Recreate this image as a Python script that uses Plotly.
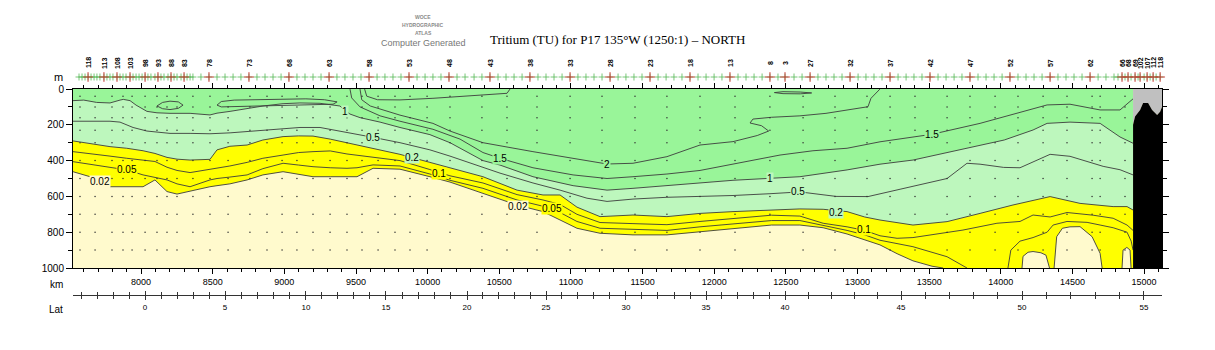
import numpy as np
import plotly.graph_objects as go

# ------------------------------------------------------------------ data
DEPTH_MAX = 1000
KM_MIN, KM_MAX = 7525, 15125
DATA_END_KM = 14923

# isoline 0.02 TU (main branch, reaches the bottom near 13600 km)
c002_km = [7525, 7644, 7783, 7900, 8014, 8097, 8181, 8251, 8342, 8481, 8530, 8620, 8740, 8850, 8991,
           9100, 9200, 9320, 9437, 9507, 9619, 9807, 10016, 10156, 10386, 10624, 10805, 10924, 11042,
           11203, 11433, 11670, 11901, 12131, 12400, 12598, 12760, 12927, 13050, 13157, 13276, 13387,
           13520, 13597]
c002_d = [462, 490, 546, 546, 546, 508, 573, 587, 570, 546, 540, 530, 508, 480, 462,
          475, 490, 490, 490, 490, 443, 448, 490, 520, 583, 648, 685, 732, 778,
          806, 815, 815, 797, 778, 760, 760, 775, 810, 843, 871, 920, 960,
          990, 1000]

# isoline 0.05 TU
c005_km = [7525, 7644, 7783, 7900, 8014, 8097, 8181, 8251, 8342, 8481, 8530, 8620, 8740, 8850, 8991,
           9100, 9200, 9320, 9437, 9507, 9619, 9807, 10016, 10156, 10386, 10624, 10805, 10924, 11042,
           11203, 11433, 11670, 11901, 12131, 12400, 12598, 12760, 12927, 13050, 13157, 13387, 13625,
           13764]
c005_d = [406, 420, 437, 452, 480, 492, 508, 530, 546, 508, 500, 492, 480, 445, 415,
          425, 434, 440, 443, 440, 424, 430, 475, 510, 555, 620, 655, 690, 740,
          778, 785, 790, 770, 752, 735, 735, 760, 790, 815, 845, 881, 937,
          1000]
c005b_km = [14050, 14070, 14134, 14225, 14323, 14365, 14462, 14602, 14693, 14784, 14881, 14910, 14923]
c005b_d = [1000, 900, 850, 830, 800, 760, 740, 745, 760, 775, 800, 850, 900]

# isoline 0.1 TU
c01_km = [7525, 7644, 7783, 7900, 8014, 8097, 8181, 8251, 8342, 8481, 8530, 8620, 8740, 8850, 8991,
          9100, 9200, 9320, 9437, 9507, 9619, 9807, 10016, 10156, 10386, 10624, 10805, 10924, 11042,
          11203, 11433, 11670, 11901, 12131, 12400, 12598, 12760, 12927, 13050, 13157, 13276, 13387,
          13520, 13736, 13973, 14134, 14225, 14344, 14462, 14644, 14784, 14881, 14923]
c01_d = [350, 360, 375, 387, 398, 405, 437, 455, 467, 450, 440, 430, 410, 387, 369,
         355, 350, 346, 363, 370, 378, 400, 450, 485, 525, 590, 620, 645, 700,
         746, 752, 758, 740, 725, 705, 710, 750, 770, 790, 820, 834, 830,
         815, 788, 750, 740, 704, 715, 690, 705, 722, 760, 790]

# isoline 0.2 TU (top of the yellow band)
c02_km = [7525, 7644, 7783, 7900, 8014, 8097, 8181, 8251, 8342, 8481, 8530, 8620, 8740, 8850, 8991,
          9100, 9200, 9320, 9437, 9507, 9619, 9807, 10016, 10156, 10386, 10624, 10805, 10924, 11042,
          11203, 11433, 11670, 11901, 12131, 12400, 12598, 12760, 12927, 13050, 13157, 13387, 13520,
          13625, 13855, 14085, 14344, 14553, 14784, 14881, 14923]
c02_d = [290, 305, 322, 331, 345, 360, 382, 392, 397, 393, 340, 320, 313, 285, 266,
         262, 263, 280, 300, 313, 335, 365, 410, 440, 490, 565, 592, 592, 660,
         713, 704, 713, 695, 685, 675, 670, 672, 685, 715, 732, 760, 750,
         741, 695, 648, 601, 639, 657, 657, 676]

# isoline 0.5 TU
c05_km = [7525, 7690, 7783, 7853, 7944, 8041, 8111, 8202, 8342, 8481, 8621, 8740, 8851, 8991, 9109,
          9249, 9388, 9528, 9619, 9807, 10016, 10156, 10386, 10505, 10735, 10924, 11112, 11252, 11433,
          11670, 11901, 12131, 12389, 12598, 12850, 13073, 13297, 13520, 13625, 13764, 13855, 14020,
          14134, 14344, 14483, 14714, 14832, 14923]
c05_d = [180, 178, 180, 185, 215, 235, 240, 248, 248, 250, 245, 238, 229, 220, 215,
         215, 235, 255, 270, 300, 340, 375, 440, 470, 525, 565, 610, 628, 615,
         605, 600, 595, 585, 575, 600, 601, 560, 520, 500, 415, 420, 438,
         440, 365, 376, 432, 451, 480]

# isoline 1 TU (green / light-green boundary)
c1_km = [7525, 7600, 7690, 7783, 7853, 7876, 7923, 7965, 8041, 8111, 8202, 8342, 8481, 8530, 8621,
         8740, 8851, 8991, 9109, 9249, 9388, 9423, 9458, 9528, 9668, 9807, 10016, 10156, 10386,
         10505, 10735, 11015, 11252, 11433, 11670, 11901, 12131, 12389, 12598, 12927, 13157, 13387,
         13716, 14024, 14225, 14323, 14483, 14693, 14832, 14923]
c1_d = [65, 62, 75, 78, 62, 58, 65, 90, 125, 133, 136, 136, 145, 135, 125,
        110, 95, 82, 78, 80, 95, 120, 140, 160, 185, 215, 255, 300, 400,
        425, 490, 540, 565, 555, 540, 525, 510, 499, 490, 452, 420, 397,
        341, 285, 229, 192, 185, 192, 268, 303]

# isoline 1.5 TU
c15_km = [9458, 9470, 9528, 9668, 9807, 10037, 10226, 10386, 10505, 10735, 11015, 11252, 11433, 11670,
          11901, 12131, 12389, 12459, 12689, 12927, 13157, 13520, 13855, 14085, 14323, 14483, 14693,
          14832, 14902, 14923]
c15_d = [0, 50, 100, 150, 180, 225, 280, 355, 387, 440, 480, 500, 490, 475,
         455, 420, 380, 369, 345, 331, 295, 253, 192, 140, 89, 85, 117,
         117, 71, 55]

# isoline 2 TU
c2_km = [9528, 9540, 9600, 9700, 9807, 10037, 10156, 10386, 10735, 11252, 11433, 11670, 11901, 12131,
         12300, 12380, 12330, 12250, 12270, 12400, 12598, 12780, 12927, 13073, 13094, 13157]
c2_d = [0, 60, 95, 120, 146, 192, 235, 300, 350, 419, 415, 378, 313, 294,
        260, 235, 205, 190, 168, 158, 150, 136, 117, 99, 52, 0]

# small near-surface contours
cs_km = [9560, 9575, 9650, 9807, 10037, 10386, 10554, 10575]
cs_d = [0, 40, 60, 61, 52, 33, 24, 0]
loopA_km = [8111, 8150, 8202, 8260, 8293, 8260, 8202, 8150, 8111]
loopA_d = [95, 75, 68, 72, 90, 108, 115, 110, 95]
loopB_km = [8530, 8560, 8650, 8800, 8991, 9150, 9280, 9368, 9340, 9200, 9000, 8800, 8650, 8560, 8530]
loopB_d = [90, 70, 62, 60, 55, 55, 60, 72, 85, 88, 92, 95, 100, 100, 90]
loopD_km = [12420, 12480, 12600, 12680, 12600, 12480, 12420]
loopD_d = [20, 15, 17, 22, 27, 26, 20]

# pockets below 0.02 TU near the northern end
p1_km = [14148, 14155, 14190, 14225, 14280, 14315, 14340]
p1_d = [1000, 935, 912, 908, 915, 928, 1000]
p2_km = [14372, 14380, 14390, 14430, 14483, 14553, 14637, 14693, 14707]
p2_d = [1000, 918, 825, 778, 770, 769, 825, 918, 1000]
p3_km = [14846, 14853, 14880, 14902, 14909]
p3_d = [1000, 900, 885, 900, 1000]

# bottom topography at the northern end
topo_km = [14923, 14937, 14972, 14993, 15028, 15056, 15091, 15112, 15125]
topo_d = [200, 153, 117, 78, 78, 117, 145, 127, 100]

# contour labels
lab_txt = ["0.02", "0.05", "0.5", "0.2", "1", "1.5", "0.1", "2", "0.02", "0.05", "1", "0.5", "0.2", "0.1", "1.5"]
lab_km = [7713, 7902, 9619, 9891, 9423, 10505, 10079, 11252, 10631, 10868, 12389, 12584, 12850, 13045, 13520]
lab_d = [518, 452, 270, 382, 127, 387, 471, 419, 659, 667, 499, 573, 689, 784, 253]
lab_bg = ["pale", "yellow", "lgreen", "lgreen", "lgreen", "green", "yellow", "green", "pale", "yellow",
          "lgreen", "lgreen", "lgreen", "yellow", "green"]

# bottle sample positions
sample_km = [7574, 7679, 7797, 7874, 7937, 8028, 8111, 8181, 8251, 8362, 8481, 8607, 8760, 8879, 8984,
             9088, 9200, 9319, 9437, 9542, 9654, 9772, 9877, 9996, 10156, 10379, 10554, 10763, 10994,
             11217, 11447, 11670, 11901, 12145, 12389, 12620, 12843, 13066, 13227, 13401, 13625, 13785,
             13960, 14120, 14295, 14462, 14637, 14693, 14867]
sample_depth = [40, 100, 160, 230, 300, 400, 500, 600, 700, 800, 900]

# stations (top strip)
station_km = [7567, 7588, 7609, 7630, 7651, 7672, 7692, 7713, 7741, 7762, 7783, 7804, 7832, 7853, 7874,
              7895, 7923, 7944, 7965, 7986, 8007, 8028, 8048, 8069, 8097, 8118, 8139, 8160, 8188, 8209,
              8230, 8251, 8279, 8300, 8321, 8342, 8362, 8418, 8474, 8530, 8586, 8642, 8697, 8753, 8809,
              8865, 8921, 8977, 9032, 9088, 9144, 9200, 9256, 9312, 9367, 9423, 9479, 9535, 9591, 9647,
              9702, 9758, 9814, 9870, 9926, 9982, 10037, 10093, 10149, 10205, 10261, 10324, 10379, 10435,
              10491, 10547, 10603, 10659, 10714, 10770, 10826, 10882, 10938, 10994, 11049, 11105, 11161,
              11217, 11273, 11329, 11384, 11440, 11496, 11552, 11608, 11664, 11719, 11775, 11831, 11887,
              11943, 11999, 12054, 12110, 12166, 12222, 12278, 12334, 12389, 12445, 12494, 12557, 12613,
              12669, 12724, 12780, 12836, 12892, 12948, 13004, 13059, 13115, 13171, 13227, 13283, 13339,
              13394, 13450, 13506, 13562, 13618, 13674, 13729, 13785, 13841, 13897, 13953, 14009, 14064,
              14120, 14176, 14232, 14288, 14344, 14399, 14455, 14511, 14567, 14623, 14679, 14734, 14790,
              14818, 14846, 14867, 14888, 14909, 14937, 14958, 14972, 15000, 15021, 15042, 15063, 15084,
              15112]
label_km = [7630, 7741, 7832, 7923, 8028, 8118, 8209, 8300, 8474, 8753, 9032, 9312, 9591, 9870, 10149,
            10435, 10714, 10994, 11273, 11552, 11831, 12110, 12389, 12494, 12669, 12948, 13227, 13506,
            13785, 14064, 14344, 14623, 14846, 14888, 14937, 14972, 15021, 15063, 15112]
label_txt = ["118", "113", "108", "103", "98", "93", "88", "83", "78", "73", "68", "63", "58", "53", "48",
             "43", "38", "33", "28", "23", "18", "13", "8", "3", "27", "32", "37", "42", "47", "52", "57",
             "62", "66", "68", "69", "102", "107", "112", "118"]

# latitude axis
lat_major = [0, 5, 10, 15, 20, 25, 30, 35, 40, 45, 50, 55]
lat_major_km = [8028, 8586, 9151, 9709, 10275, 10826, 11384, 11943, 12494, 13304, 14148, 14999]

# ------------------------------------------------------------------ style
PALE = "#FFFACD"
YELLOW = "#FFFF00"
LGREEN = "#BDF7BD"
GREEN = "#99F599"
BG = {"pale": PALE, "yellow": YELLOW, "lgreen": LGREEN, "green": GREEN}
LINE = "#3c3c3c"
SANS = "Liberation Sans, Arial, Helvetica, sans-serif"
SERIF = "Liberation Serif, Times New Roman, serif"

Y_BOT, Y_TOP = 82 / 350, 261 / 350   # main plot domain (pixels 268 .. 89)

fig = go.Figure()


def fill(xs, ys, color):
    fig.add_trace(go.Scatter(x=xs, y=ys, mode="lines", line=dict(width=0), fill="toself",
                             fillcolor=color, hoverinfo="skip", showlegend=False))


def line(xs, ys):
    fig.add_trace(go.Scatter(x=xs, y=ys, mode="lines", line=dict(color=LINE, width=0.9),
                             hoverinfo="skip", showlegend=False))


# filled bands
fill(c002_km + [DATA_END_KM, DATA_END_KM, c002_km[0]], c002_d + [DEPTH_MAX, 0, 0], YELLOW)
for pk, pd in [(p1_km, p1_d), (p2_km, p2_d), (p3_km, p3_d)]:
    fill(pk, pd, PALE)
fill(c02_km + [c02_km[-1], c02_km[0]], c02_d + [0, 0], LGREEN)
fill(c1_km + [c1_km[-1], c1_km[0]], c1_d + [0, 0], GREEN)

# contour lines
for xs, ys in [(c002_km, c002_d), (c005_km, c005_d), (c005b_km, c005b_d), (c01_km, c01_d),
               (c02_km, c02_d), (c05_km, c05_d), (c1_km, c1_d), (c15_km, c15_d), (c2_km, c2_d),
               (cs_km, cs_d), (loopA_km, loopA_d), (loopB_km, loopB_d), (loopD_km, loopD_d),
               (p1_km, p1_d), (p2_km, p2_d), (p3_km, p3_d)]:
    line(xs, ys)

# bottle samples
skm, sdp = np.meshgrid(sample_km, sample_depth)
fig.add_trace(go.Scatter(x=skm.ravel(), y=sdp.ravel(), mode="markers",
                         marker=dict(size=1.5, color="#333333"), hoverinfo="skip", showlegend=False))

# no-data (gray) and bottom (black)
fill(topo_km + [topo_km[-1], topo_km[0]], topo_d + [0, 0], "#C0C0C0")
fill(topo_km + [topo_km[-1], topo_km[0]], topo_d + [DEPTH_MAX, DEPTH_MAX], "#000000")

# station markers on the top strip
fig.add_trace(go.Scatter(x=station_km, y=[77] * len(station_km), xaxis="x", yaxis="y2", mode="markers",
                         marker=dict(symbol="cross-thin", size=5, line=dict(color="#55b855", width=0.8)),
                         hoverinfo="skip", showlegend=False, cliponaxis=False))
fig.add_trace(go.Scatter(x=label_km, y=[77] * len(label_km), xaxis="x", yaxis="y2", mode="markers",
                         marker=dict(symbol="cross-thin", size=7, line=dict(color="#cc3030", width=0.9)),
                         hoverinfo="skip", showlegend=False, cliponaxis=False))

# dummy traces so the latitude axes are drawn
fig.add_trace(go.Scatter(x=[lat_major_km[0]], y=[None], xaxis="x2", yaxis="y", showlegend=False))
fig.add_trace(go.Scatter(x=[lat_major_km[0]], y=[None], xaxis="x3", yaxis="y", showlegend=False))

# latitude minor ticks (one per degree)
lat_minor = np.arange(-4, 57)
km_minor = np.interp(lat_minor, lat_major, lat_major_km)
s0 = (lat_major_km[1] - lat_major_km[0]) / (lat_major[1] - lat_major[0])
s1 = (lat_major_km[-1] - lat_major_km[-2]) / (lat_major[-1] - lat_major[-2])
km_minor = np.where(lat_minor < lat_major[0], lat_major_km[0] + (lat_minor - lat_major[0]) * s0, km_minor)
km_minor = np.where(lat_minor > lat_major[-1], lat_major_km[-1] + (lat_minor - lat_major[-1]) * s1, km_minor)
km_minor = [float(k) for k, la in zip(km_minor, lat_minor) if KM_MIN <= k <= KM_MAX and la % 5 != 0]

axis_common = dict(showgrid=False, zeroline=False, automargin=False)
fig.update_layout(
    width=1215, height=350, autosize=False,
    margin=dict(l=73, r=53, t=0, b=0, pad=0),
    paper_bgcolor="white", plot_bgcolor="white", showlegend=False,
    xaxis=dict(domain=[0, 1], range=[KM_MIN, KM_MAX], anchor="y", showline=True, linecolor="black",
               linewidth=1, mirror="ticks", ticks="outside", ticklen=5, tickwidth=1, tickcolor="black",
               tick0=0, dtick=500, tickformat="d", tickfont=dict(family=SANS, size=9, color="black"),
               minor=dict(dtick=100, ticklen=3, ticks="outside", tickcolor="black", tickwidth=1),
               **axis_common),
    yaxis=dict(domain=[Y_BOT, Y_TOP], range=[DEPTH_MAX, 0], anchor="x", showline=True, linecolor="black",
               linewidth=1, mirror="ticks", ticks="outside", ticklen=6, tickwidth=1, tickcolor="black",
               tick0=0, dtick=200, tickformat="d", tickfont=dict(family=SANS, size=10, color="black"),
               minor=dict(dtick=100, ticklen=4, ticks="outside", tickcolor="black", tickwidth=1),
               **axis_common),
    yaxis2=dict(domain=[Y_TOP, 1], range=[89, 0], anchor="x", visible=False, **axis_common),
    xaxis2=dict(overlaying="x", anchor="free", position=55 / 350, range=[KM_MIN, KM_MAX], side="bottom",
                showline=True, linecolor="#333333", linewidth=1, ticks="outside", ticklen=4,
                tickcolor="#333333", tickvals=lat_major_km, ticktext=[str(v) for v in lat_major],
                tickfont=dict(family=SANS, size=8, color="black"),
                minor=dict(tickvals=km_minor, ticklen=3, ticks="outside", tickcolor="#333333"),
                **axis_common),
    xaxis3=dict(overlaying="x", anchor="free", position=55 / 350, range=[KM_MIN, KM_MAX], side="bottom",
                showline=False, ticks="inside", ticklen=4, tickcolor="#333333", tickvals=lat_major_km,
                showticklabels=False,
                minor=dict(tickvals=km_minor, ticklen=3, ticks="inside", tickcolor="#333333"),
                **axis_common),
)

# background of the section (values below 0.02 TU)
fig.add_shape(type="rect", xref="x domain", yref="y domain", x0=0, x1=1, y0=0, y1=1,
              fillcolor=PALE, line=dict(width=0), layer="below")

ann = []
for t, k, d, b in zip(lab_txt, lab_km, lab_d, lab_bg):
    ann.append(dict(x=k, y=d, xref="x", yref="y", text=t, showarrow=False, bgcolor=BG[b], borderpad=0,
                    xanchor="center", yanchor="middle",
                    font=dict(family=SANS, size=10, color="black")))
for k, t in zip(label_km, label_txt):
    ann.append(dict(x=k, y=63, xref="x", yref="y2", text="<b>%s</b>" % t, textangle=-90, showarrow=False,
                    xanchor="center", yanchor="middle",
                    font=dict(family=SANS, size=7, color="black")))


def px(xpix):
    return (xpix - 73) / 1089


def py(ypix):
    return (350 - ypix) / 350


def txt(x, y, text, size, color="black", family=SANS, xanchor="center"):
    return dict(x=px(x), y=py(y), xref="paper", yref="paper", showarrow=False, text=text,
                xanchor=xanchor, yanchor="middle", font=dict(family=family, size=size, color=color))


ann += [
    txt(617, 39, "Tritium (TU) for P17 135°W (1250:1) – NORTH", 13, family=SERIF),
    txt(423, 17, "<b>WOCE</b>", 5, "#8a8a8a"),
    txt(423, 25, "<b>HYDROGRAPHIC</b>", 5, "#8a8a8a"),
    txt(423, 33, "<b>ATLAS</b>", 5, "#8a8a8a"),
    txt(423, 43, "Computer Generated", 9, "#777777"),
    txt(65, 77, "m", 11, xanchor="right"),
    txt(65, 284, "km", 10, xanchor="right"),
    txt(65, 309, "Lat", 10, xanchor="right"),
]
fig.update_layout(annotations=ann)

fig.write_html("out.html")
